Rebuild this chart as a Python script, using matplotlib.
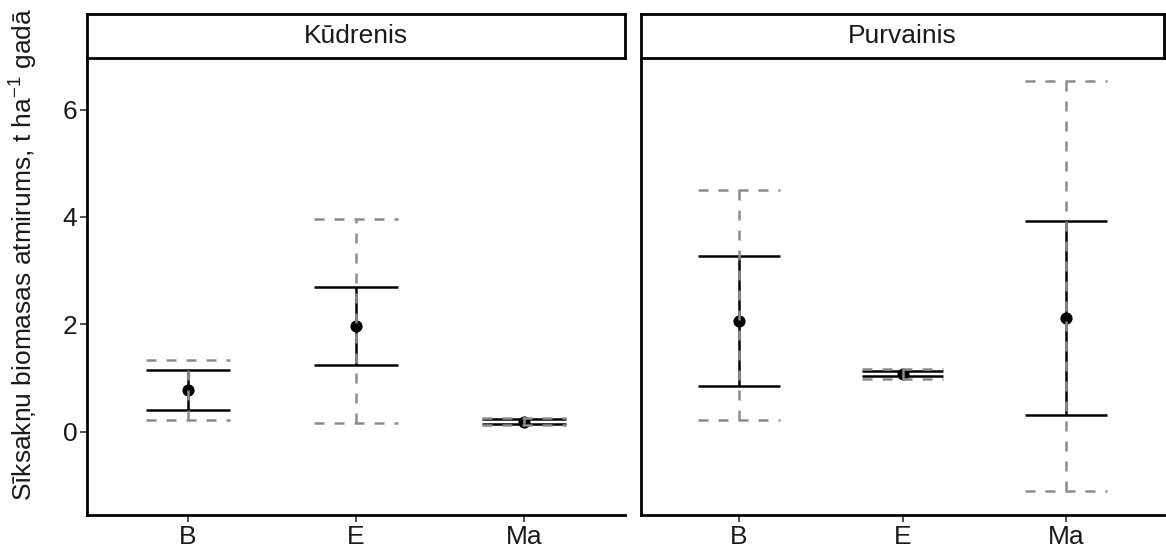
import matplotlib
matplotlib.use("Agg")
import matplotlib.pyplot as plt

plt.rcParams['font.family'] = ['Liberation Sans', 'DejaVu Sans']
plt.rcParams['mathtext.fontset'] = 'custom'
plt.rcParams['mathtext.rm'] = 'Liberation Sans'
plt.rcParams['mathtext.it'] = 'Liberation Sans:italic'

facets = ["Kūdrenis", "Purvainis"]
categories = ["B", "E", "Ma"]
mean_vals = {"Kūdrenis": [0.78, 1.97, 0.19], "Purvainis": [2.06, 1.08, 2.12]}
se_low = {"Kūdrenis": [0.41, 1.25, 0.15], "Purvainis": [0.85, 1.03, 0.32]}
se_high = {"Kūdrenis": [1.15, 2.69, 0.23], "Purvainis": [3.27, 1.13, 3.93]}
ci_low = {"Kūdrenis": [0.22, 0.16, 0.13], "Purvainis": [0.22, 0.99, -1.10]}
ci_high = {"Kūdrenis": [1.34, 3.97, 0.25], "Purvainis": [4.51, 1.17, 6.53]}
yticks = [0, 2, 4, 6]
ylabel = "Sīksakņu biomasas atmirums, t ha$^{-1}$ gadā"

W, H = 1166, 547
fig = plt.figure(figsize=(W / 100, H / 100), dpi=100)
panels = [(87, 625), (641, 1164)]
ptop, pbot = 58, 515
stop = 14
FS = 19

for i, (f, (x0, x1)) in enumerate(zip(facets, panels)):
    ax = fig.add_axes([x0 / W, 1 - pbot / H, (x1 - x0) / W, (pbot - ptop) / H])
    xs = list(range(1, len(categories) + 1))
    ax.scatter(xs, mean_vals[f], s=60, color='black', zorder=2)
    for x, lo, hi in zip(xs, se_low[f], se_high[f]):
        ax.vlines(x, lo, hi, color='black', lw=1.8, zorder=3)
        ax.hlines([lo, hi], x - 0.25, x + 0.25, color='black', lw=1.8, zorder=3)
    for x, lo, hi in zip(xs, ci_low[f], ci_high[f]):
        ax.vlines(x, lo, hi, color='#8c8c8c', lw=1.8, linestyles=(0, (4, 4)), zorder=4)
        ax.hlines([lo, hi], x - 0.25, x + 0.25, color='#8c8c8c', lw=1.8, linestyles=(0, (4, 4)), zorder=4)
    ax.set_xlim(0.4, 3.6)
    ax.set_ylim(-1.55, 6.96)
    ax.set_xticks(xs)
    ax.set_xticklabels(categories)
    ax.set_yticks(yticks)
    ax.tick_params(axis='both', labelsize=FS, length=5, width=1.2, color='#333333',
                   labelcolor='#1a1a1a', pad=2)
    if i > 0:
        ax.set_yticklabels([])
        ax.tick_params(axis='y', length=0)
    else:
        ax.set_ylabel(ylabel, fontsize=FS, color='#1a1a1a')
        ax.yaxis.set_label_coords(-0.088, 0.57)
    for s in ['top', 'right']:
        ax.spines[s].set_visible(False)
    for s in ['left', 'bottom']:
        ax.spines[s].set_linewidth(2)
    # strip
    sax = fig.add_axes([x0 / W, 1 - ptop / H, (x1 - x0) / W, (ptop - stop) / H])
    sax.set_xticks([]); sax.set_yticks([])
    for s in sax.spines.values():
        s.set_linewidth(2)
    sax.text(0.5, 0.5, f, ha='center', va='center', fontsize=FS, color='#1a1a1a', transform=sax.transAxes)

fig.savefig("out.png", dpi=100)
